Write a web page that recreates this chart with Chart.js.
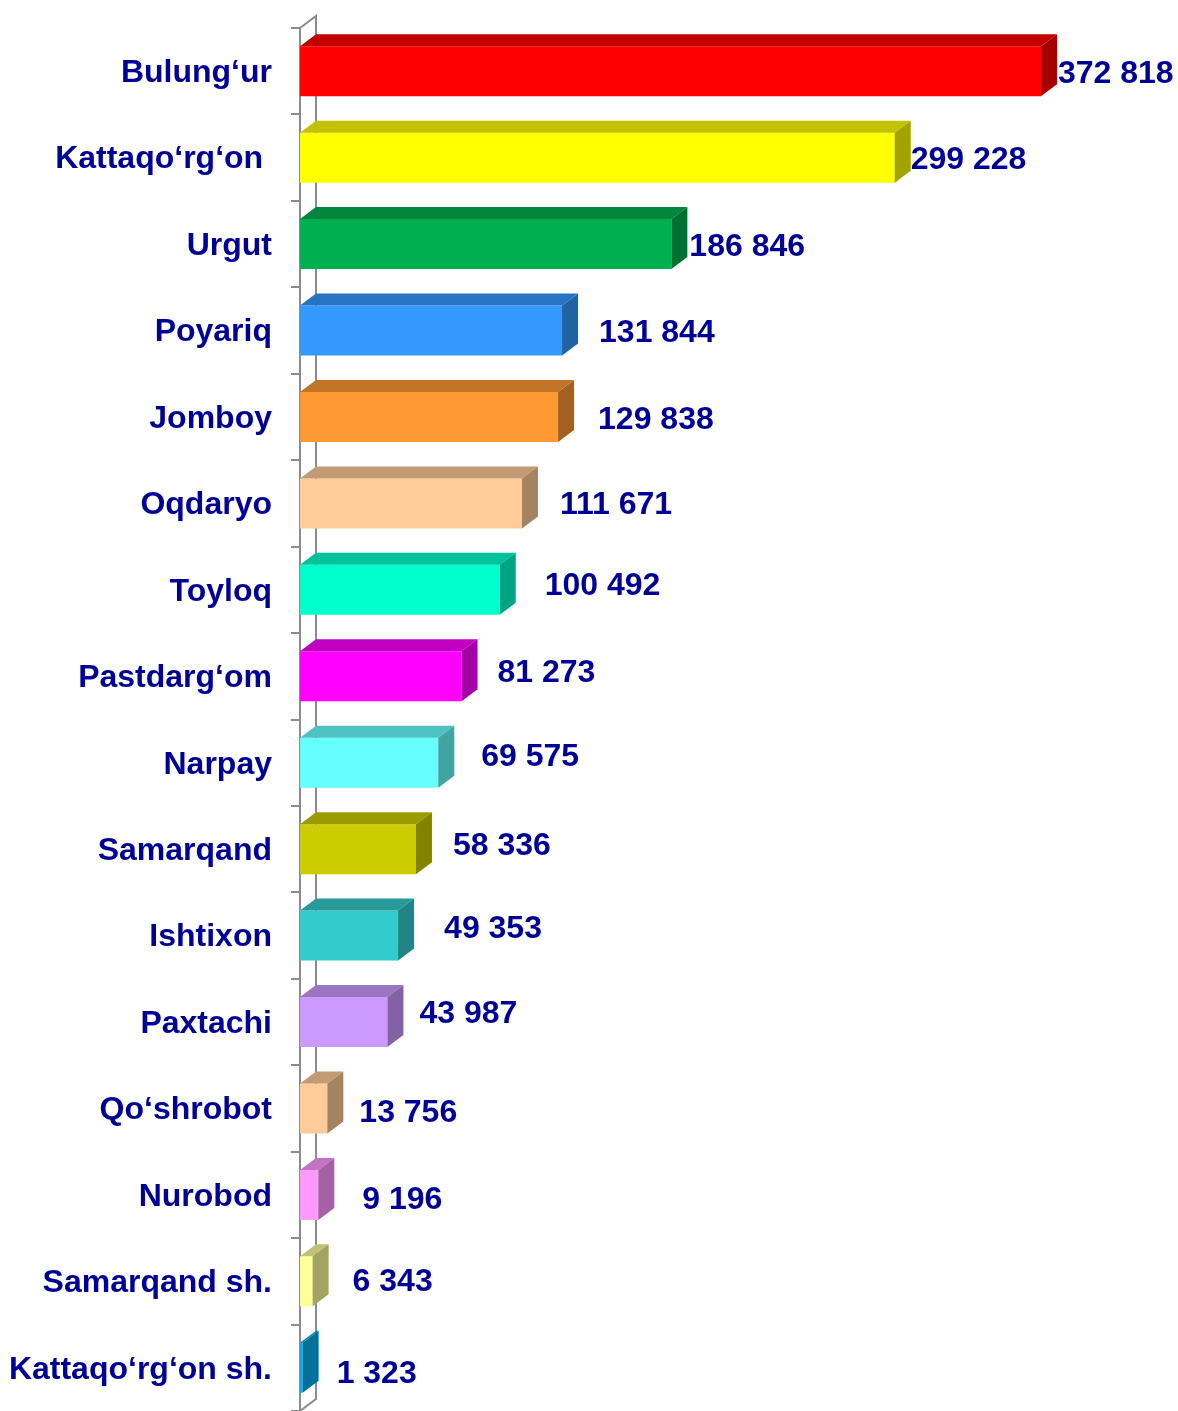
<!DOCTYPE html>
<html>
<head>
<meta charset="utf-8">
<title>Tumanlar</title>
<script src="https://cdn.jsdelivr.net/npm/chart.js@4/dist/chart.umd.min.js"></script>
<style>
  html, body { margin: 0; padding: 0; background: #fff; }
  #wrap { width: 1178px; height: 1411px; position: relative; }
</style>
</head>
<body>
<div id="wrap"><canvas id="chart"></canvas></div>
<script>
// districts, top to bottom
const districts = [
    'Bulung‘ur', 'Kattaqo‘rg‘on ', 'Urgut', 'Poyariq', 'Jomboy', 'Oqdaryo',
    'Toyloq', 'Pastdarg‘om', 'Narpay', 'Samarqand', 'Ishtixon', 'Paxtachi',
    'Qo‘shrobot', 'Nurobod', 'Samarqand sh.', 'Kattaqo‘rg‘on sh.'
];
const values = [
    372818, 299228, 186846, 131844, 129838, 111671, 100492, 81273,
    69575, 58336, 49353, 43987, 13756, 9196, 6343, 1323
];
const barColors = [
    '#FF0000', '#FFFF00', '#00B050', '#3399FF', '#FF9933', '#FFCC99',
    '#00FFCC', '#FF00FF', '#66FFFF', '#CCCC00', '#33CCCC', '#CC99FF',
    '#FFCC99', '#FF99FF', '#FFFF99', '#00B0F0'
];
// hand-placed label nudges [dx, dy] (the original labels were dragged around)
const labelNudge = [
    [1, 3], [0, 3], [2, 3], [21, 3], [24, 3], [22, 2], [29, -4], [20, -3],
    [27, -6], [21, -3], [30, -6], [16, -8], [16, 5], [28, 5], [24, 1], [18, 6]
];

const DX = 16, DY = 12;
const AXIS = '#8C8C8C';
const TEXT = '#000099';
const FONT = '"Liberation Sans", Arial, sans-serif';

function shade(hex, f) {
    const n = parseInt(hex.slice(1), 16);
    const r = Math.round(((n >> 16) & 255) * f);
    const g = Math.round(((n >> 8) & 255) * f);
    const b = Math.round((n & 255) * f);
    return 'rgb(' + r + ',' + g + ',' + b + ')';
}

function fmt(v) {
    return String(v).replace(/\B(?=(\d{3})+(?!\d))/g, ' ');
}

// back wall line and the little diagonals of the 3D axis
const wallPlugin = {
    id: 'wall',
    beforeDatasetsDraw(chart) {
        const { ctx, chartArea: a } = chart;
        ctx.save();
        ctx.strokeStyle = AXIS;
        ctx.lineWidth = 2;
        ctx.beginPath();
        ctx.moveTo(a.left, a.top);
        ctx.lineTo(a.left + DX, a.top - DY);
        ctx.lineTo(a.left + DX, a.bottom - DY);
        ctx.lineTo(a.left, a.bottom);
        ctx.stroke();
        ctx.restore();
    }
};

// top and side faces of each bar, then the value labels
const boxPlugin = {
    id: 'box3d',
    afterDatasetsDraw(chart) {
        const ctx = chart.ctx;
        const meta = chart.getDatasetMeta(0);
        ctx.save();
        meta.data.forEach((bar, i) => {
            const p = bar.getProps(['x', 'y', 'base', 'height'], true);
            const top = p.y - p.height / 2;
            const bot = p.y + p.height / 2;
            const c = barColors[i];

            ctx.fillStyle = shade(c, 0.76);
            ctx.beginPath();
            ctx.moveTo(p.base, top);
            ctx.lineTo(p.base + DX, top - DY);
            ctx.lineTo(p.x + DX, top - DY);
            ctx.lineTo(p.x, top);
            ctx.closePath();
            ctx.fill();

            ctx.fillStyle = shade(c, 0.64);
            ctx.beginPath();
            ctx.moveTo(p.x, top);
            ctx.lineTo(p.x + DX, top - DY);
            ctx.lineTo(p.x + DX, bot - DY);
            ctx.lineTo(p.x, bot);
            ctx.closePath();
            ctx.fill();

            const nd = labelNudge[i];
            ctx.fillStyle = TEXT;
            ctx.font = 'bold 32px ' + FONT;
            ctx.textAlign = 'left';
            ctx.textBaseline = 'middle';
            ctx.fillText(fmt(values[i]), p.x + DX + nd[0], p.y + nd[1]);
        });
        ctx.restore();
    }
};

new Chart(document.getElementById('chart'), {
    type: 'bar',
    data: {
        labels: districts,
        datasets: [{
            data: values,
            backgroundColor: barColors,
            borderWidth: 0,
            barPercentage: 0.578,
            categoryPercentage: 1
        }]
    },
    options: {
        indexAxis: 'y',
        responsive: true,
        maintainAspectRatio: false,
        animation: false,
        layout: { padding: { top: 28, right: 83, bottom: 0, left: 0 } },
        plugins: {
            legend: { display: false },
            tooltip: { enabled: false }
        },
        scales: {
            x: {
                display: false,
                min: 0,
                max: 400000
            },
            y: {
                afterFit(scale) {
                    scale.width = 300;
                    scale.paddingTop = 0;
                    scale.paddingBottom = 0;
                },
                grid: {
                    offset: true,
                    drawOnChartArea: false,
                    drawTicks: true,
                    tickLength: 9,
                    color: AXIS,
                    lineWidth: 2
                },
                border: { display: true, color: AXIS, width: 2 },
                ticks: {
                    color: TEXT,
                    padding: 19,
                    labelOffset: 2,
                    font: { family: FONT, size: 32, weight: 'bold' }
                }
            }
        }
    },
    plugins: [wallPlugin, boxPlugin]
});
</script>
</body>
</html>
